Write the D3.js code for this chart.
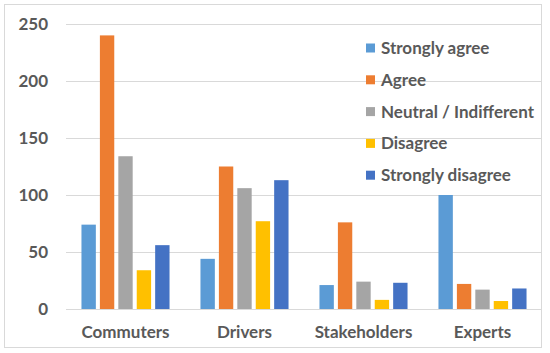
<!DOCTYPE html>
<html>
<head>
<meta charset="utf-8">
<script src="https://cdn.jsdelivr.net/npm/d3@7"></script>
<style>
  body { margin: 0; background: #fff; }
  text { font-family: Lato, "Open Sans", sans-serif; font-weight: bold; fill: #595959; }
</style>
</head>
<body>
<div id="chart"></div>
<script>
// data
const groups = ['Commuters', 'Drivers', 'Stakeholders', 'Experts'];
const answers = ['Strongly agree', 'Agree', 'Neutral / Indifferent', 'Disagree', 'Strongly disagree'];
const stronglyAgree = [74, 44, 21, 100];
const agree = [240, 125, 76, 22];
const neutral = [134, 106, 24, 17];
const disagree = [34, 77, 8, 7];
const stronglyDisagree = [56, 113, 23, 18];
const yTicks = [0, 50, 100, 150, 200, 250];

const colors = ['#5B9BD5', '#ED7D31', '#A5A5A5', '#FFC000', '#4472C4'];
const series = [stronglyAgree, agree, neutral, disagree, stronglyDisagree];

const W = 550, H = 353;
const margin = { top: 24, right: 8, bottom: 44, left: 66 };
const width = 542 - margin.left;
const height = 309 - margin.top;

const svg = d3.select('#chart').append('svg')
    .attr('width', W)
    .attr('height', H);

// outer frame
svg.append('rect')
    .attr('x', 4.5).attr('y', 4.5)
    .attr('width', 537).attr('height', 343)
    .attr('fill', 'none')
    .attr('stroke', '#d9d9d9');

const g = svg.append('g')
    .attr('transform', 'translate(' + margin.left + ',' + margin.top + ')');

const x0 = d3.scaleBand()
    .domain(groups)
    .range([0, width])
    .paddingInner(0.26)
    .paddingOuter(0.13);

const x1 = d3.scaleBand()
    .domain(d3.range(answers.length))
    .range([0, x0.bandwidth()])
    .paddingInner(0.22);

const y = d3.scaleLinear()
    .domain([0, 250])
    .range([height, 0]);

// gridlines
g.append('g')
    .selectAll('line')
    .data(yTicks)
    .enter()
    .append('line')
    .attr('x1', 0)
    .attr('x2', width)
    .attr('y1', d => Math.round(y(d)) + 0.5)
    .attr('y2', d => Math.round(y(d)) + 0.5)
    .attr('stroke', '#d9d9d9')
    .attr('stroke-width', 1);

// y labels
g.append('g')
    .selectAll('text')
    .data(yTicks)
    .enter()
    .append('text')
    .attr('x', -18)
    .attr('y', d => y(d))
    .attr('dy', '0.35em')
    .attr('text-anchor', 'end')
    .style('font-size', '17px')
    .text(d => d);

// bars
const groupG = g.selectAll('.grp')
    .data(groups)
    .enter()
    .append('g')
    .attr('class', 'grp')
    .attr('transform', d => 'translate(' + x0(d) + ',0)');

groupG.selectAll('rect')
    .data((d, gi) => series.map((s, si) => ({ si: si, v: s[gi] })))
    .enter()
    .append('rect')
    .attr('x', d => x1(d.si))
    .attr('width', x1.bandwidth())
    .attr('y', d => y(d.v))
    .attr('height', d => height - y(d.v))
    .attr('fill', d => colors[d.si]);

// x labels
g.append('g')
    .selectAll('text')
    .data(groups)
    .enter()
    .append('text')
    .attr('x', d => x0(d) + x0.bandwidth() / 2)
    .attr('y', height + 23)
    .attr('dy', '0.35em')
    .attr('text-anchor', 'middle')
    .style('font-size', '17px')
    .text(d => d);

// legend
const legend = svg.append('g')
    .attr('transform', 'translate(366,48)');

const item = legend.selectAll('g')
    .data(answers)
    .enter()
    .append('g')
    .attr('transform', (d, i) => 'translate(0,' + (i * 31.8) + ')');

item.append('rect')
    .attr('x', 0)
    .attr('y', -4.5)
    .attr('width', 9)
    .attr('height', 9)
    .attr('fill', (d, i) => colors[i]);

item.append('text')
    .attr('x', 15)
    .attr('y', 0)
    .attr('dy', '0.35em')
    .style('font-size', '17px')
    .text(d => d);
</script>
</body>
</html>
